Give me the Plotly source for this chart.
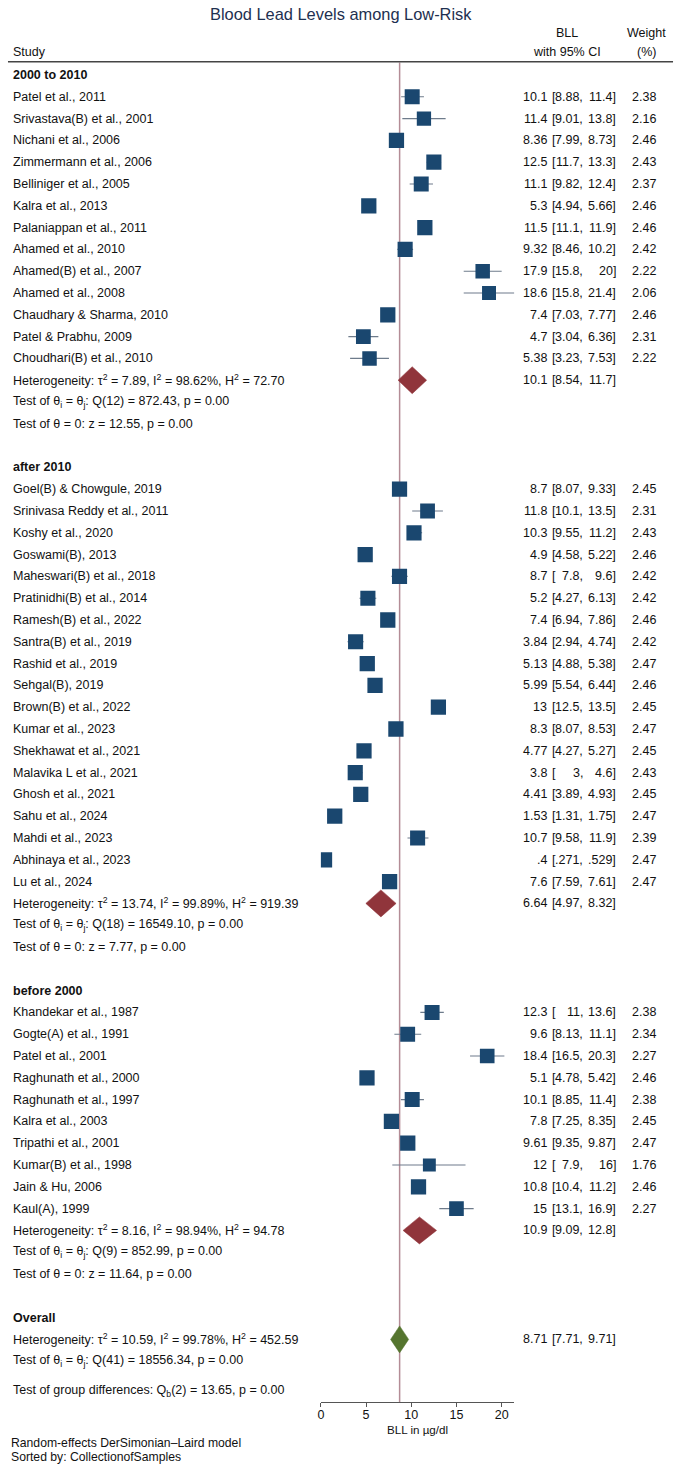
import plotly.graph_objects as go

W, H = 679, 1469

# --- data ---
groups = ["2000 to 2010", "after 2010", "before 2000"]

studies_a = ["Patel et al., 2011", "Srivastava(B) et al., 2001", "Nichani et al., 2006",
             "Zimmermann et al., 2006", "Belliniger et al., 2005", "Kalra et al., 2013",
             "Palaniappan et al., 2011", "Ahamed et al., 2010", "Ahamed(B) et al., 2007",
             "Ahamed et al., 2008", "Chaudhary & Sharma, 2010", "Patel & Prabhu, 2009",
             "Choudhari(B) et al., 2010"]
est_a = [10.1, 11.4, 8.36, 12.5, 11.1, 5.3, 11.5, 9.32, 17.9, 18.6, 7.4, 4.7, 5.38]
lo_a = [8.88, 9.01, 7.99, 11.7, 9.82, 4.94, 11.1, 8.46, 15.8, 15.8, 7.03, 3.04, 3.23]
hi_a = [11.4, 13.8, 8.73, 13.3, 12.4, 5.66, 11.9, 10.2, 20, 21.4, 7.77, 6.36, 7.53]
wt_a = [2.38, 2.16, 2.46, 2.43, 2.37, 2.46, 2.46, 2.42, 2.22, 2.06, 2.46, 2.31, 2.22]

studies_b = ["Goel(B) & Chowgule, 2019", "Srinivasa Reddy et al., 2011", "Koshy et al., 2020",
             "Goswami(B), 2013", "Maheswari(B) et al., 2018", "Pratinidhi(B) et al., 2014",
             "Ramesh(B) et al., 2022", "Santra(B) et al., 2019", "Rashid et al., 2019",
             "Sehgal(B), 2019", "Brown(B) et al., 2022", "Kumar et al., 2023",
             "Shekhawat et al., 2021", "Malavika L et al., 2021", "Ghosh et al., 2021",
             "Sahu et al., 2024", "Mahdi et al., 2023", "Abhinaya et al., 2023", "Lu et al., 2024"]
est_b = [8.7, 11.8, 10.3, 4.9, 8.7, 5.2, 7.4, 3.84, 5.13, 5.99, 13, 8.3, 4.77, 3.8, 4.41,
         1.53, 10.7, 0.4, 7.6]
lo_b = [8.07, 10.1, 9.55, 4.58, 7.8, 4.27, 6.94, 2.94, 4.88, 5.54, 12.5, 8.07, 4.27, 3, 3.89,
        1.31, 9.58, 0.271, 7.59]
hi_b = [9.33, 13.5, 11.2, 5.22, 9.6, 6.13, 7.86, 4.74, 5.38, 6.44, 13.5, 8.53, 5.27, 4.6, 4.93,
        1.75, 11.9, 0.529, 7.61]
wt_b = [2.45, 2.31, 2.43, 2.46, 2.42, 2.42, 2.46, 2.42, 2.47, 2.46, 2.45, 2.47, 2.45, 2.43, 2.45,
        2.47, 2.39, 2.47, 2.47]

studies_c = ["Khandekar et al., 1987", "Gogte(A) et al., 1991", "Patel et al., 2001",
             "Raghunath et al., 2000", "Raghunath et al., 1997", "Kalra et al., 2003",
             "Tripathi et al., 2001", "Kumar(B) et al., 1998", "Jain & Hu, 2006", "Kaul(A), 1999"]
est_c = [12.3, 9.6, 18.4, 5.1, 10.1, 7.8, 9.61, 12, 10.8, 15]
lo_c = [11, 8.13, 16.5, 4.78, 8.85, 7.25, 9.35, 7.9, 10.4, 13.1]
hi_c = [13.6, 11.1, 20.3, 5.42, 11.4, 8.35, 9.87, 16, 11.2, 16.9]
wt_c = [2.38, 2.34, 2.27, 2.46, 2.38, 2.45, 2.47, 1.76, 2.46, 2.27]

pooled_est = [10.1, 6.64, 10.9]
pooled_lo = [8.54, 4.97, 9.09]
pooled_hi = [11.7, 8.32, 12.8]
tau2 = [7.89, 13.74, 8.16]
i2 = [98.62, 99.89, 98.94]
h2 = [72.70, 919.39, 94.78]
q_df = [12, 18, 9]
q_stat = [872.43, 16549.10, 852.99]
z_stat = [12.55, 7.77, 11.64]

overall_est, overall_lo, overall_hi = 8.71, 7.71, 9.71
overall_tau2, overall_i2, overall_h2 = 10.59, 99.78, 452.59
overall_q_df, overall_q = 41, 18556.34
qb_df, qb_stat = 2, 13.65

study_sets = [
    (studies_a, est_a, lo_a, hi_a, wt_a),
    (studies_b, est_b, lo_b, hi_b, wt_b),
    (studies_c, est_c, lo_c, hi_c, wt_c),
]

# --- layout constants (pixels) ---
ROW0 = 75.0      # centre of first row
PITCH = 21.8     # row height
AXIS_PX = 1402.0
X0_PX, X1_PX = 319.3, 513.6

FONT = "Liberation Sans, Arial, sans-serif"
FS = 12.5
NAVY = "#1a476f"
MAROON = "#90353b"
GREEN = "#55752f"
CI_LINE = "#6e7b8b"
REF_LINE = "#b48c96"


def fmt(v):
    s = f"{v:.3g}"
    if s.startswith("0."):
        s = s[1:]
    return s


def px(p):
    return p / W


def py(p):
    return 1 - p / H


rows = []  # (row, kind, payload)
r = 0
for g, (names, est, lo, hi, wt), pe, pl, ph, t2, ii, hh, qd, qs, zs in zip(
        groups, study_sets, pooled_est, pooled_lo, pooled_hi, tau2, i2, h2, q_df, q_stat, z_stat):
    rows.append((r, "group", g))
    r += 1
    for n, e, l, h, w in zip(names, est, lo, hi, wt):
        rows.append((r, "study", (n, e, l, h, w)))
        r += 1
    het = (f"Heterogeneity: τ<sup>2</sup> = {t2:.2f}, I<sup>2</sup> = {ii:.2f}%, "
           f"H<sup>2</sup> = {hh:.2f}")
    rows.append((r, "pooled", (het, pe, pl, ph, MAROON)))
    r += 1
    rows.append((r, "text", f"Test of θ<sub>i</sub> = θ<sub>j</sub>: Q({qd}) = {qs:.2f}, p = 0.00"))
    r += 1
    rows.append((r, "text", f"Test of θ = 0: z = {zs:.2f}, p = 0.00"))
    r += 2

rows.append((r, "group", "Overall"))
r += 1
het = (f"Heterogeneity: τ<sup>2</sup> = {overall_tau2:.2f}, I<sup>2</sup> = {overall_i2:.2f}%, "
       f"H<sup>2</sup> = {overall_h2:.2f}")
rows.append((r, "pooled", (het, overall_est, overall_lo, overall_hi, GREEN)))
r += 1
rows.append((r, "text", f"Test of θ<sub>i</sub> = θ<sub>j</sub>: Q({overall_q_df}) = {overall_q:.2f}, p = 0.00"))
r += 1.35
rows.append((r, "text", f"Test of group differences: Q<sub>b</sub>({qb_df}) = {qb_stat:.2f}, p = 0.00"))

fig = go.Figure()
ann = []


def txt(x, y, s, anchor="left", bold=False, size=FS, color="#111111", yref="y"):
    ann.append(dict(x=x, y=y, xref="paper", yref=yref, text=f"<b>{s}</b>" if bold else s,
                    showarrow=False, xanchor=anchor, yanchor="middle",
                    font=dict(family=FONT, size=size, color=color)))


def ci_cols(y, e, l, h):
    txt(px(548.5), y, fmt(e), "right")
    txt(px(549.5), y, "[", "left")
    txt(px(585), y, fmt(l) + ",", "right")
    txt(px(618), y, fmt(h) + "]", "right")


sq_x, sq_y, sq_s = [], [], []
ci_x, ci_y = [], []
for row, kind, p in rows:
    if kind == "group":
        txt(px(8), row, p, bold=True)
    elif kind == "text":
        txt(px(8), row, p)
    elif kind == "study":
        n, e, l, h, w = p
        txt(px(8), row, n)
        ci_cols(row, e, l, h)
        txt(px(658), row, f"{w:.2f}", "right")
        sq_x.append(e)
        sq_y.append(row)
        sq_s.append(15 * (w / 2.38) ** 0.5)
        ci_x += [l, h, None]
        ci_y += [row, row, None]
    elif kind == "pooled":
        s, e, l, h, col = p
        txt(px(8), row, s)
        ci_cols(row, e, l, h)
        d = 13.5 / PITCH
        fig.add_trace(go.Scatter(x=[l, e, h, e, l], y=[row, row - d, row, row + d, row],
                                 mode="lines", fill="toself", fillcolor=col,
                                 line=dict(color=col, width=0.5), hoverinfo="skip",
                                 showlegend=False))

# confidence-interval whiskers, drawn under the squares
fig.add_trace(go.Scatter(x=ci_x, y=ci_y, mode="lines",
                         line=dict(color=CI_LINE, width=1.1), hoverinfo="skip", showlegend=False))
fig.add_trace(go.Scatter(
    x=sq_x, y=sq_y, mode="markers",
    marker=dict(symbol="square", size=sq_s, color=NAVY, opacity=1, line=dict(width=0)),
    hoverinfo="skip", showlegend=False,
))

# header
txt(0.5, py(14), "Blood Lead Levels among Low-Risk", "center", size=16.4, color="#1e3050", yref="paper")
txt(px(8), py(51.7), "Study", yref="paper")
txt(px(567), py(33), "BLL", "center", yref="paper")
txt(px(567), py(51.7), "with 95% CI", "center", yref="paper")
txt(px(646), py(33), "Weight", "center", yref="paper")
txt(px(646), py(51.7), "(%)", "center", yref="paper")

# axis title and notes
txt(px((X0_PX + X1_PX) / 2), py(1429), "BLL in µg/dl", "center", size=11.6, yref="paper")
txt(px(6), py(1443), "Random-effects DerSimonian–Laird model", size=12.2, yref="paper")
txt(px(6), py(1457), "Sorted by: CollectionofSamples", size=12.2, yref="paper")

shapes = [
    dict(type="line", xref="paper", yref="paper", x0=px(5), x1=px(673), y0=py(61.7), y1=py(61.7),
         line=dict(color="#444444", width=1.4)),
    dict(type="line", xref="x", yref="paper", x0=overall_est, x1=overall_est,
         y0=py(AXIS_PX), y1=py(62.5), line=dict(color=REF_LINE, width=1.5), layer="below"),
]

r_top = (0 - ROW0) / PITCH
r_bot = (AXIS_PX - ROW0) / PITCH
x_max = max(max(hi_a), max(hi_b), max(hi_c))

fig.update_layout(
    width=W, height=H,
    margin=dict(l=0, r=0, t=0, b=0),
    paper_bgcolor="white", plot_bgcolor="white",
    annotations=ann, shapes=shapes,
    xaxis=dict(range=[0, x_max], domain=[px(X0_PX), px(X1_PX)], anchor="y",
               showline=True, linecolor="#555555", linewidth=1.2,
               ticks="outside", ticklen=4, tickcolor="#555555", tickwidth=1.1,
               ticklabelstandoff=-3,
               tickvals=[0, 5, 10, 15, 20], showgrid=False, zeroline=False,
               tickfont=dict(family=FONT, size=FS, color="#111111")),
    yaxis=dict(range=[r_bot, r_top], domain=[1 - AXIS_PX / H, 1], visible=False,
               showgrid=False, zeroline=False),
    showlegend=False,
)

fig.write_html("out.html", config={"displayModeBar": False},
               post_script="document.body.style.margin='0px';")
